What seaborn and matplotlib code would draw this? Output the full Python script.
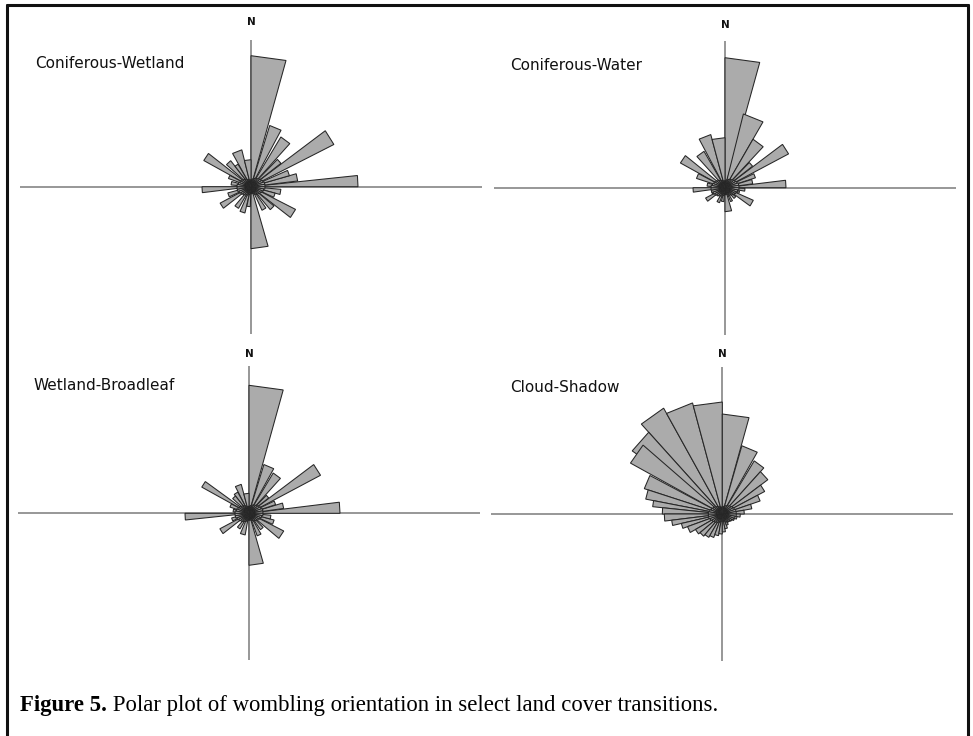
import numpy as np
import pandas as pd
import matplotlib
matplotlib.use("Agg")
import matplotlib.pyplot as plt
import seaborn as sns
from matplotlib.patches import Polygon
from matplotlib.lines import Line2D

# ---------------- data ----------------
panel_titles = ["Coniferous-Wetland", "Coniferous-Water", "Wetland-Broadleaf", "Cloud-Shadow"]
north_label = "N"
caption_bold = "Figure 5."
caption_text = " Polar plot of wombling orientation in select land cover transitions."

# wedge start / end orientation (degrees clockwise from N) and length (frequency units)
cw_start = [0, 17, 31, 44, 53, 66, 74, 84, 95, 105, 117, 130, 145, 164, 182, 193, 210, 232, 245, 263, 275, 290, 299, 312, 322, 331, 346]
cw_end   = [15.5, 28, 42, 52, 63, 74, 83, 90, 105, 115, 128, 140, 155, 180, 192, 204, 220, 242, 255, 270, 285, 298, 308, 322, 330, 346, 360]
cw_len   = [131, 64, 58, 38, 93, 40, 47, 107, 30, 25, 50, 30, 26, 62, 20, 27, 25, 35, 24, 49, 20, 24, 54, 33, 26, 38, 27]

cwa_start = [0, 14, 30, 44, 53, 64, 73, 83, 92, 104, 114, 130, 150, 164, 185, 200, 232, 245, 262, 275, 288, 299, 318, 332, 345]
cwa_end   = [15.5, 30, 43, 52, 62, 72, 82, 90, 100, 112, 126, 140, 158, 180, 195, 210, 242, 255, 270, 285, 298, 309, 330, 345, 360]
cwa_len   = [130, 76, 56, 35, 72, 32, 28, 61, 20, 15, 31, 14, 15, 24, 14, 16, 22, 14, 32, 18, 30, 51, 42, 55, 50]

wb_start = [0, 17, 31, 44, 53, 64, 73, 83, 95, 105, 117, 135, 150, 164, 190, 210, 232, 245, 264, 275, 288, 299, 312, 322, 333, 345]
wb_end   = [15.5, 29, 42, 52, 62, 72, 82, 90, 105, 115, 130, 145, 160, 180, 203, 220, 242, 255, 270, 285, 298, 306, 322, 332, 345, 360]
wb_len   = [128, 51, 47, 25, 81, 28, 35, 91, 22, 26, 39, 20, 24, 52, 22, 18, 33, 18, 64, 16, 20, 54, 22, 24, 30, 20]

cs_start = [0, 16, 31, 42, 53, 62, 71, 80, 90, 100, 110, 120, 130, 140, 150, 160, 170, 180, 190, 200, 210, 220, 230, 240, 250, 257, 263, 270, 276, 281, 288, 299, 305, 318, 331, 345]
cs_end   = [15.5, 29.5, 42, 53, 62, 71, 80, 90, 100, 110, 120, 130, 140, 150, 160, 170, 180, 190, 200, 210, 220, 230, 240, 250, 257, 263, 270, 276, 281, 288, 298, 311, 318, 331, 345, 360]
cs_len   = [100, 71, 62, 57, 48, 40, 30, 22, 18, 15, 13, 11, 10, 10, 12, 15, 18, 20, 22, 25, 27, 29, 31, 37, 42, 51, 58, 60, 70, 78, 82, 105, 110, 121, 115, 112]

# short wedges forming the dense hub (10-degree sectors from N, clockwise)
hub_len = [7, 8, 9, 10, 11, 12, 13, 14, 14, 14, 13, 12, 11, 10, 9, 8, 7, 7,
           7, 8, 9, 10, 11, 12, 13, 14, 14, 14, 13, 12, 11, 10, 9, 8, 7, 7]

panels = [
    (cw_start, cw_end, cw_len),
    (cwa_start, cwa_end, cwa_len),
    (wb_start, wb_end, wb_len),
    (cs_start, cs_end, cs_len),
]

# ---------------- style / layout ----------------
sns.set_theme(style="white")
plt.rcParams["font.family"] = ["DejaVu Sans"]

W, H = 973, 736
fig = plt.figure(figsize=(W / 100, H / 100), dpi=100)

centers = [(251, 186.7), (725, 187.7), (249, 513.3), (722.3, 514.0)]
title_off = [(-216, 123.5), (-215, 122.5), (-216, 128), (-212, 127)]
n_off = [165, 162.5, 159, 160]
HW, HH = 231, 147

fill_col = "#ababab"
edge_col = "#262626"
axis_col = "#7a7a7a"


def wedge(ax, a1, a2, r, z):
    t1, t2 = np.radians(a1), np.radians(a2)
    pts = [(0, 0), (r * np.sin(t1), r * np.cos(t1)), (r * np.sin(t2), r * np.cos(t2))]
    ax.add_patch(Polygon(pts, closed=True, facecolor=fill_col, edgecolor=edge_col,
                         linewidth=0.75, zorder=z, joinstyle="miter"))


for i, ((cx, cy), (st, en, ln)) in enumerate(zip(centers, panels)):
    ax = fig.add_axes([(cx - HW) / W, (H - (cy + HH)) / H, 2 * HW / W, 2 * HH / H])
    ax.set_xlim(-HW, HW)
    ax.set_ylim(-HH, HH)
    ax.axis("off")
    ax.axhline(0, color=axis_col, lw=1.1, zorder=1)
    ax.axvline(0, color=axis_col, lw=1.1, zorder=1)
    df = pd.DataFrame({"start": st, "end": en, "length": ln}).sort_values("length", ascending=False)
    for k, row in enumerate(df.itertuples()):
        wedge(ax, row.start, row.end, row.length, 2 + k * 0.01)
    for j, hl in enumerate(hub_len):
        wedge(ax, j * 10, j * 10 + 10, hl, 5)
    tx, ty = title_off[i]
    ax.text(tx, ty, panel_titles[i], ha="left", va="center", fontsize=11,
            color="#111111", clip_on=False)
    ax.text(0, n_off[i], north_label, ha="center", va="center", fontsize=7.5,
            fontweight="bold", color="#111111", clip_on=False)

# outer frame (open at the bottom)
fx0, fx1, fy = 7 / W, 968 / W, 1 - 5 / H
for xs, ys in [([fx0, fx1], [fy, fy]), ([fx0, fx0], [fy, 0]), ([fx1, fx1], [fy, 0])]:
    fig.add_artist(Line2D(xs, ys, transform=fig.transFigure, color="#111111", lw=2.2))

# caption
cap_y = 1 - 706 / H
t1 = fig.text(20 / W, cap_y, caption_bold, fontweight="bold", family="Liberation Serif",
              fontsize=16.4, va="center", ha="left", color="black")
fig.canvas.draw()
bb = t1.get_window_extent(renderer=fig.canvas.get_renderer())
fig.text(bb.x1 / W, cap_y, caption_text, family="Liberation Serif", fontsize=16.4,
         va="center", ha="left", color="black")

fig.savefig("out.png", dpi=100)
